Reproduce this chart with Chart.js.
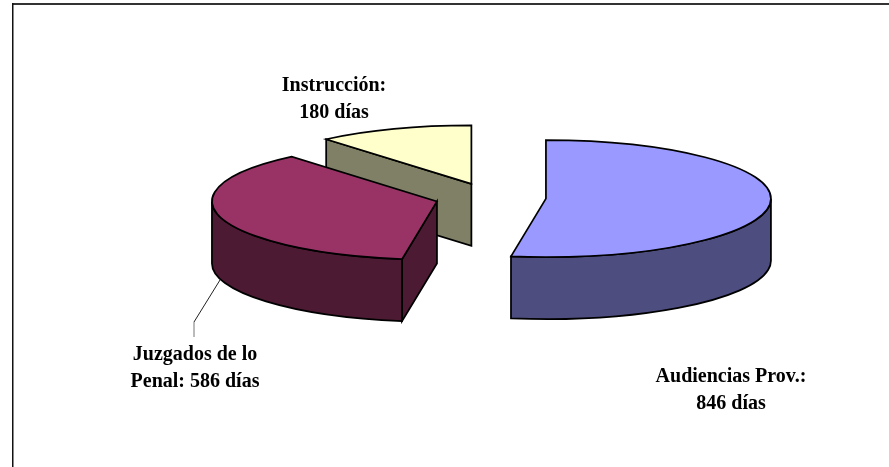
<!DOCTYPE html>
<html>
<head>
  <meta charset="utf-8">
  <title>Duración por órgano</title>
  <style>
    html, body { margin: 0; padding: 0; background: #fff; }
    canvas { display: block; }
  </style>
</head>
<body>
<script src="https://cdnjs.cloudflare.com/ajax/libs/Chart.js/4.4.1/chart.umd.js"></script>
<canvas id="myChart" width="889" height="467"></canvas>
<script>
  var categories = ['Audiencias Prov.', 'Juzgados de lo Penal', 'Instrucción'];
  var dias = [846, 586, 180];
  var dataLabels = [
    ['Audiencias Prov.:', '846 días'],
    ['Juzgados de lo', 'Penal: 586 días'],
    ['Instrucción:', '180 días']
  ];

  // look of the pie
  var topColors = ['#9999ff', '#993366', '#ffffcc'];
  var sideColors = ['#4d4d80', '#4d1a33', '#808066'];
  var RADIUS = 225;
  var SQUASH = 0.26;   // ellipse height / width
  var DEPTH = 62;
  var EXPLODE = 55.6;

  // where the labels sit
  var labelPos = [[731, 382], [195, 360], [334, 91]];
  var LINE_HEIGHT = 26.5;
  var leader = [[220, 280], [194, 322], [194, 337]];

  // exploded centre of a slice, on screen
  function sliceCentre(arc) {
    var mid = (arc.startAngle + arc.endAngle) / 2;
    return {
      x: arc.x + Math.cos(mid) * EXPLODE,
      y: arc.y + Math.sin(mid) * EXPLODE * SQUASH
    };
  }

  function drawWalls(ctx, arc, c, color) {
    var r = arc.outerRadius;
    var ry = r * SQUASH;
    var edges = [];
    ctx.fillStyle = color;

    // a cut face shows only when it turns towards the viewer
    if (Math.cos(arc.startAngle) < -1e-6) edges.push(arc.startAngle);
    if (Math.cos(arc.endAngle) > 1e-6) edges.push(arc.endAngle);
    edges.forEach(function(a) {
      var px = c.x + Math.cos(a) * r;
      var py = c.y + Math.sin(a) * ry;
      ctx.beginPath();
      ctx.moveTo(c.x, c.y);
      ctx.lineTo(px, py);
      ctx.lineTo(px, py + DEPTH);
      ctx.lineTo(c.x, c.y + DEPTH);
      ctx.closePath();
      ctx.fill();
      ctx.stroke();
    });

    // outer wall, front half of the ellipse only
    var a0 = Math.max(arc.startAngle, 0);
    var a1 = Math.min(arc.endAngle, Math.PI);
    if (a1 > a0) {
      ctx.beginPath();
      ctx.ellipse(c.x, c.y, r, ry, 0, a0, a1);
      ctx.ellipse(c.x, c.y + DEPTH, r, ry, 0, a1, a0, true);
      ctx.closePath();
      ctx.fill();
      ctx.stroke();
    }
  }

  var pie3d = {
    id: 'pie3d',
    beforeDatasetDraw: function(chart, args) {
      var ctx = chart.ctx;
      var arcs = args.meta.data;
      ctx.save();
      ctx.lineWidth = 1.75;
      ctx.strokeStyle = '#000';

      // back to front
      [2, 1, 0].forEach(function(i) {
        var arc = arcs[i];
        var c = sliceCentre(arc);
        drawWalls(ctx, arc, c, sideColors[i]);

        // top face, filled by the arc element itself
        ctx.save();
        ctx.translate(c.x, c.y);
        ctx.scale(1, SQUASH);
        ctx.translate(-arc.x, -arc.y);
        arc.draw(ctx);
        ctx.restore();

        ctx.beginPath();
        ctx.moveTo(c.x, c.y);
        ctx.ellipse(c.x, c.y, arc.outerRadius, arc.outerRadius * SQUASH, 0, arc.startAngle, arc.endAngle);
        ctx.closePath();
        ctx.stroke();
      });
      ctx.restore();
      return false;
    },
    afterDraw: function(chart) {
      var ctx = chart.ctx;
      ctx.save();

      // frame, open at right and bottom
      ctx.fillStyle = '#333';
      ctx.fillRect(12, 3, 877, 2);
      ctx.fillStyle = '#111';
      ctx.fillRect(12, 3, 1.5, 464);

      // leader of the Juzgados label
      ctx.lineWidth = 1;
      ctx.strokeStyle = '#222';
      ctx.beginPath();
      ctx.moveTo(leader[0][0], leader[0][1]);
      ctx.lineTo(leader[1][0], leader[1][1]);
      ctx.stroke();
      ctx.strokeStyle = '#777';
      ctx.beginPath();
      ctx.moveTo(leader[1][0], leader[1][1]);
      ctx.lineTo(leader[2][0], leader[2][1]);
      ctx.stroke();

      ctx.fillStyle = '#000';
      ctx.font = 'bold 20px "Liberation Serif"';
      ctx.textAlign = 'center';
      ctx.textBaseline = 'alphabetic';
      dataLabels.forEach(function(lines, i) {
        lines.forEach(function(line, j) {
          ctx.fillText(line, labelPos[i][0], labelPos[i][1] + j * LINE_HEIGHT);
        });
      });
      ctx.restore();
    }
  };

  var myChart = new Chart(document.getElementById('myChart'), {
    type: 'pie',
    data: {
      labels: categories,
      datasets: [{
        data: dias,
        backgroundColor: topColors,
        borderWidth: 0
      }]
    },
    options: {
      responsive: false,
      animation: false,
      radius: RADIUS,
      layout: { padding: { left: 92, right: 0, top: 0, bottom: 72 } },
      plugins: {
        legend: { display: false },
        tooltip: { enabled: false }
      }
    },
    plugins: [pie3d]
  });
</script>
</body>
</html>
